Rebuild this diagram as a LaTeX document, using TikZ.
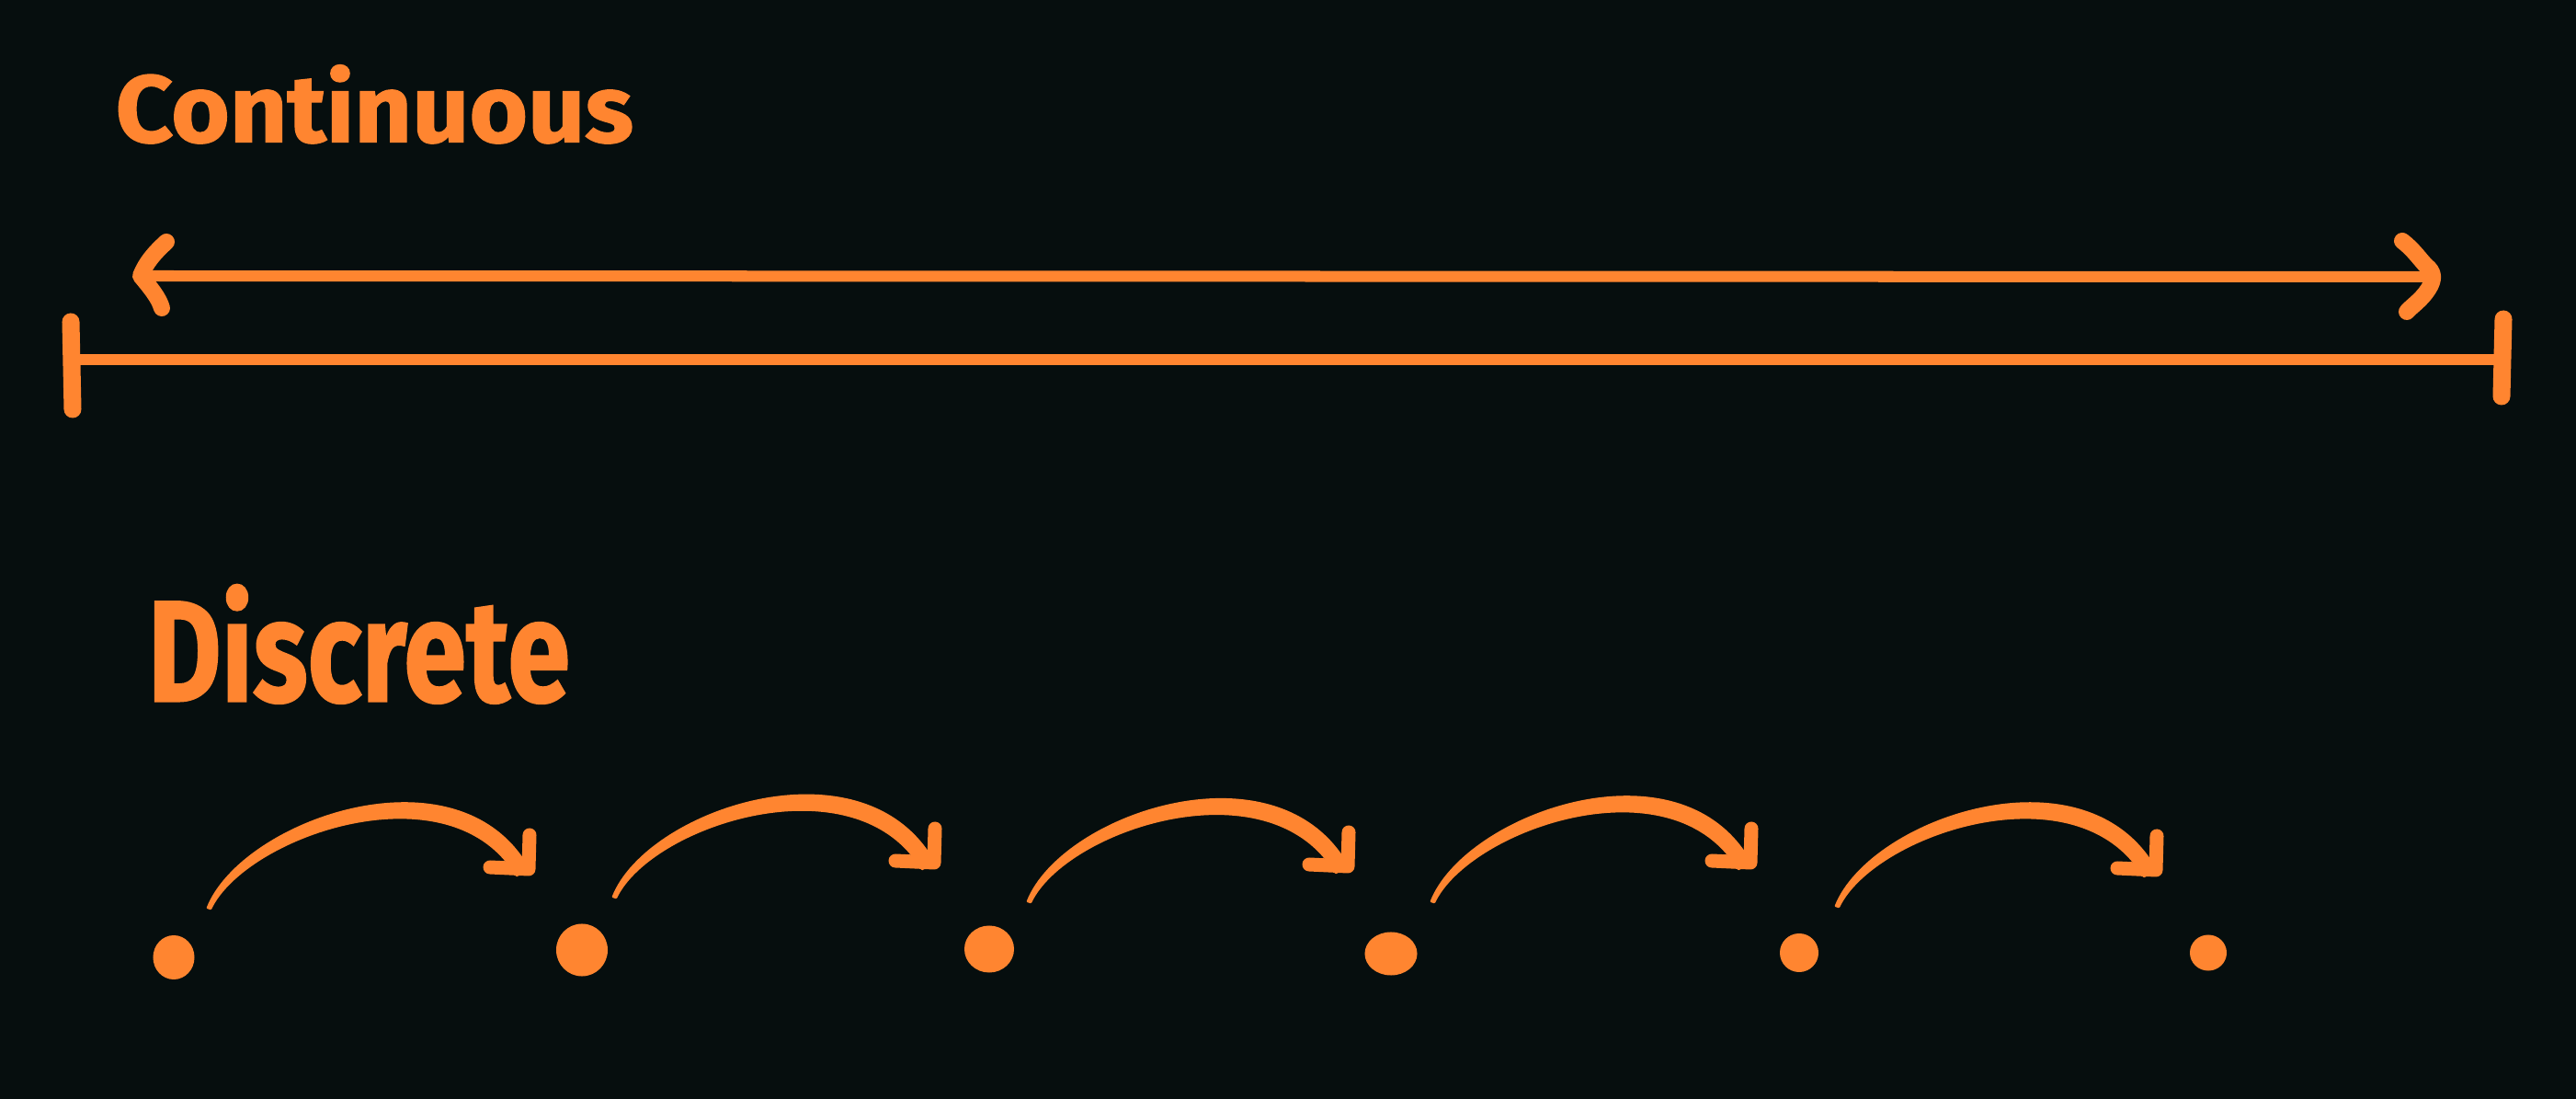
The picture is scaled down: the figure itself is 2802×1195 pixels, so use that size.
\documentclass[tikz,border=0pt]{standalone}
\usepackage{graphicx}
\usepackage{fontspec}
\newfontfamily\handfont[BoldFeatures={FakeBold=1.2}]{Fira Sans}
\usetikzlibrary{calc,shapes.geometric}
\definecolor{bgc}{RGB}{6,14,14}
\definecolor{org}{RGB}{255,133,48}
\tikzset{
  axisline/.style={draw=org, line width=0.12cm},
  headline/.style={draw=org, line width=0.18cm, line cap=round, line join=round},
  tickline/.style={draw=org, line width=0.19cm, line cap=round},
  hophead/.style={draw=org, line width=0.15cm, line cap=round, line join=round},
  hopbody/.style={fill=org, draw=org, line width=0.025cm, line join=round},
  dotnode/.style={ellipse, fill=org, draw=none, inner sep=0pt},
  titletext/.style={anchor=south west, inner sep=0pt, text=org}
}
\begin{document}
\begin{tikzpicture}[x=0.01cm, y=-0.01cm]
\fill[bgc] (0,0) rectangle (2802,1195);
\useasboundingbox (0,0) rectangle (2802,1195);

% titles
\node[titletext] (tcont) at (125,157) {\resizebox{5.63cm}{0.84cm}{\handfont\bfseries Continuous}};
\node[titletext] (tdisc) at (160,766) {\resizebox{4.59cm}{1.27cm}{\handfont\bfseries Discrete}};

% continuous: double arrow
\coordinate (la) at (153,300);
\coordinate (ra) at (2647,301);
\draw[axisline] (la) -- (ra);
\draw[headline] ($(la)+(28,-37)$) .. controls ($(la)+(15,-25)$) and ($(la)+(6,-15)$) .. (la)
  .. controls ($(la)+(10,12)$) and ($(la)+(20,24)$) .. ($(la)+(23,35)$);
\draw[headline] ($(ra)+(-34,-39)$) .. controls ($(ra)+(-22,-30)$) and ($(ra)+(-14,-18)$) .. ($(ra)+(-8,-12)$)
  .. controls ($(ra)+(0,-6)$) and ($(ra)+(2,2)$) .. ($(ra)+(-6,14)$)
  .. controls ($(ra)+(-14,26)$) and ($(ra)+(-24,32)$) .. ($(ra)+(-29,38)$);

% continuous: interval
\coordinate (il) at (79,391);
\coordinate (ir) at (2722,391);
\draw[axisline] (il) -- (ir);
\draw[tickline] ($(il)+(-2,-41)$) -- ($(il)+(0,54)$);
\draw[tickline] ($(ir)+(1,-44)$) -- ($(ir)+(-1,40)$);

% discrete: dots
\foreach \i/\x/\y/\w/\h in {1/189/1041/0.45/0.48, 2/633/1033/0.56/0.57, 3/1076/1032/0.54/0.51,
                            4/1513/1037/0.57/0.47, 5/1957/1036/0.42/0.42, 6/2402/1036/0.40/0.39}
  \node[dotnode, minimum width=\w cm, minimum height=\h cm] (d\i) at (\x,\y) {};

% discrete: hops
\foreach \i/\sx/\sy/\tx/\ty in {1/226/987/575/945, 2/667/975/1016/938, 3/1118/980/1466/942,
                                4/1557/980/1904/938, 5/1997/985/2345/946} {
  \coordinate (s\i) at (\sx,\sy);
  \coordinate (t\i) at (\tx,\ty);
  \filldraw[hopbody] (s\i) .. controls +(38,-95) and +(-76,-136) .. (t\i)
     -- ++(-13,7) .. controls +(-72,-121) and +(38,-80) .. ($(s\i)+(3,1)$) -- cycle;
  \draw[hophead] ($(t\i)+(-42,-2)$) -- (t\i) -- ($(t\i)+(1,-37)$);
}
\end{tikzpicture}
\end{document}
